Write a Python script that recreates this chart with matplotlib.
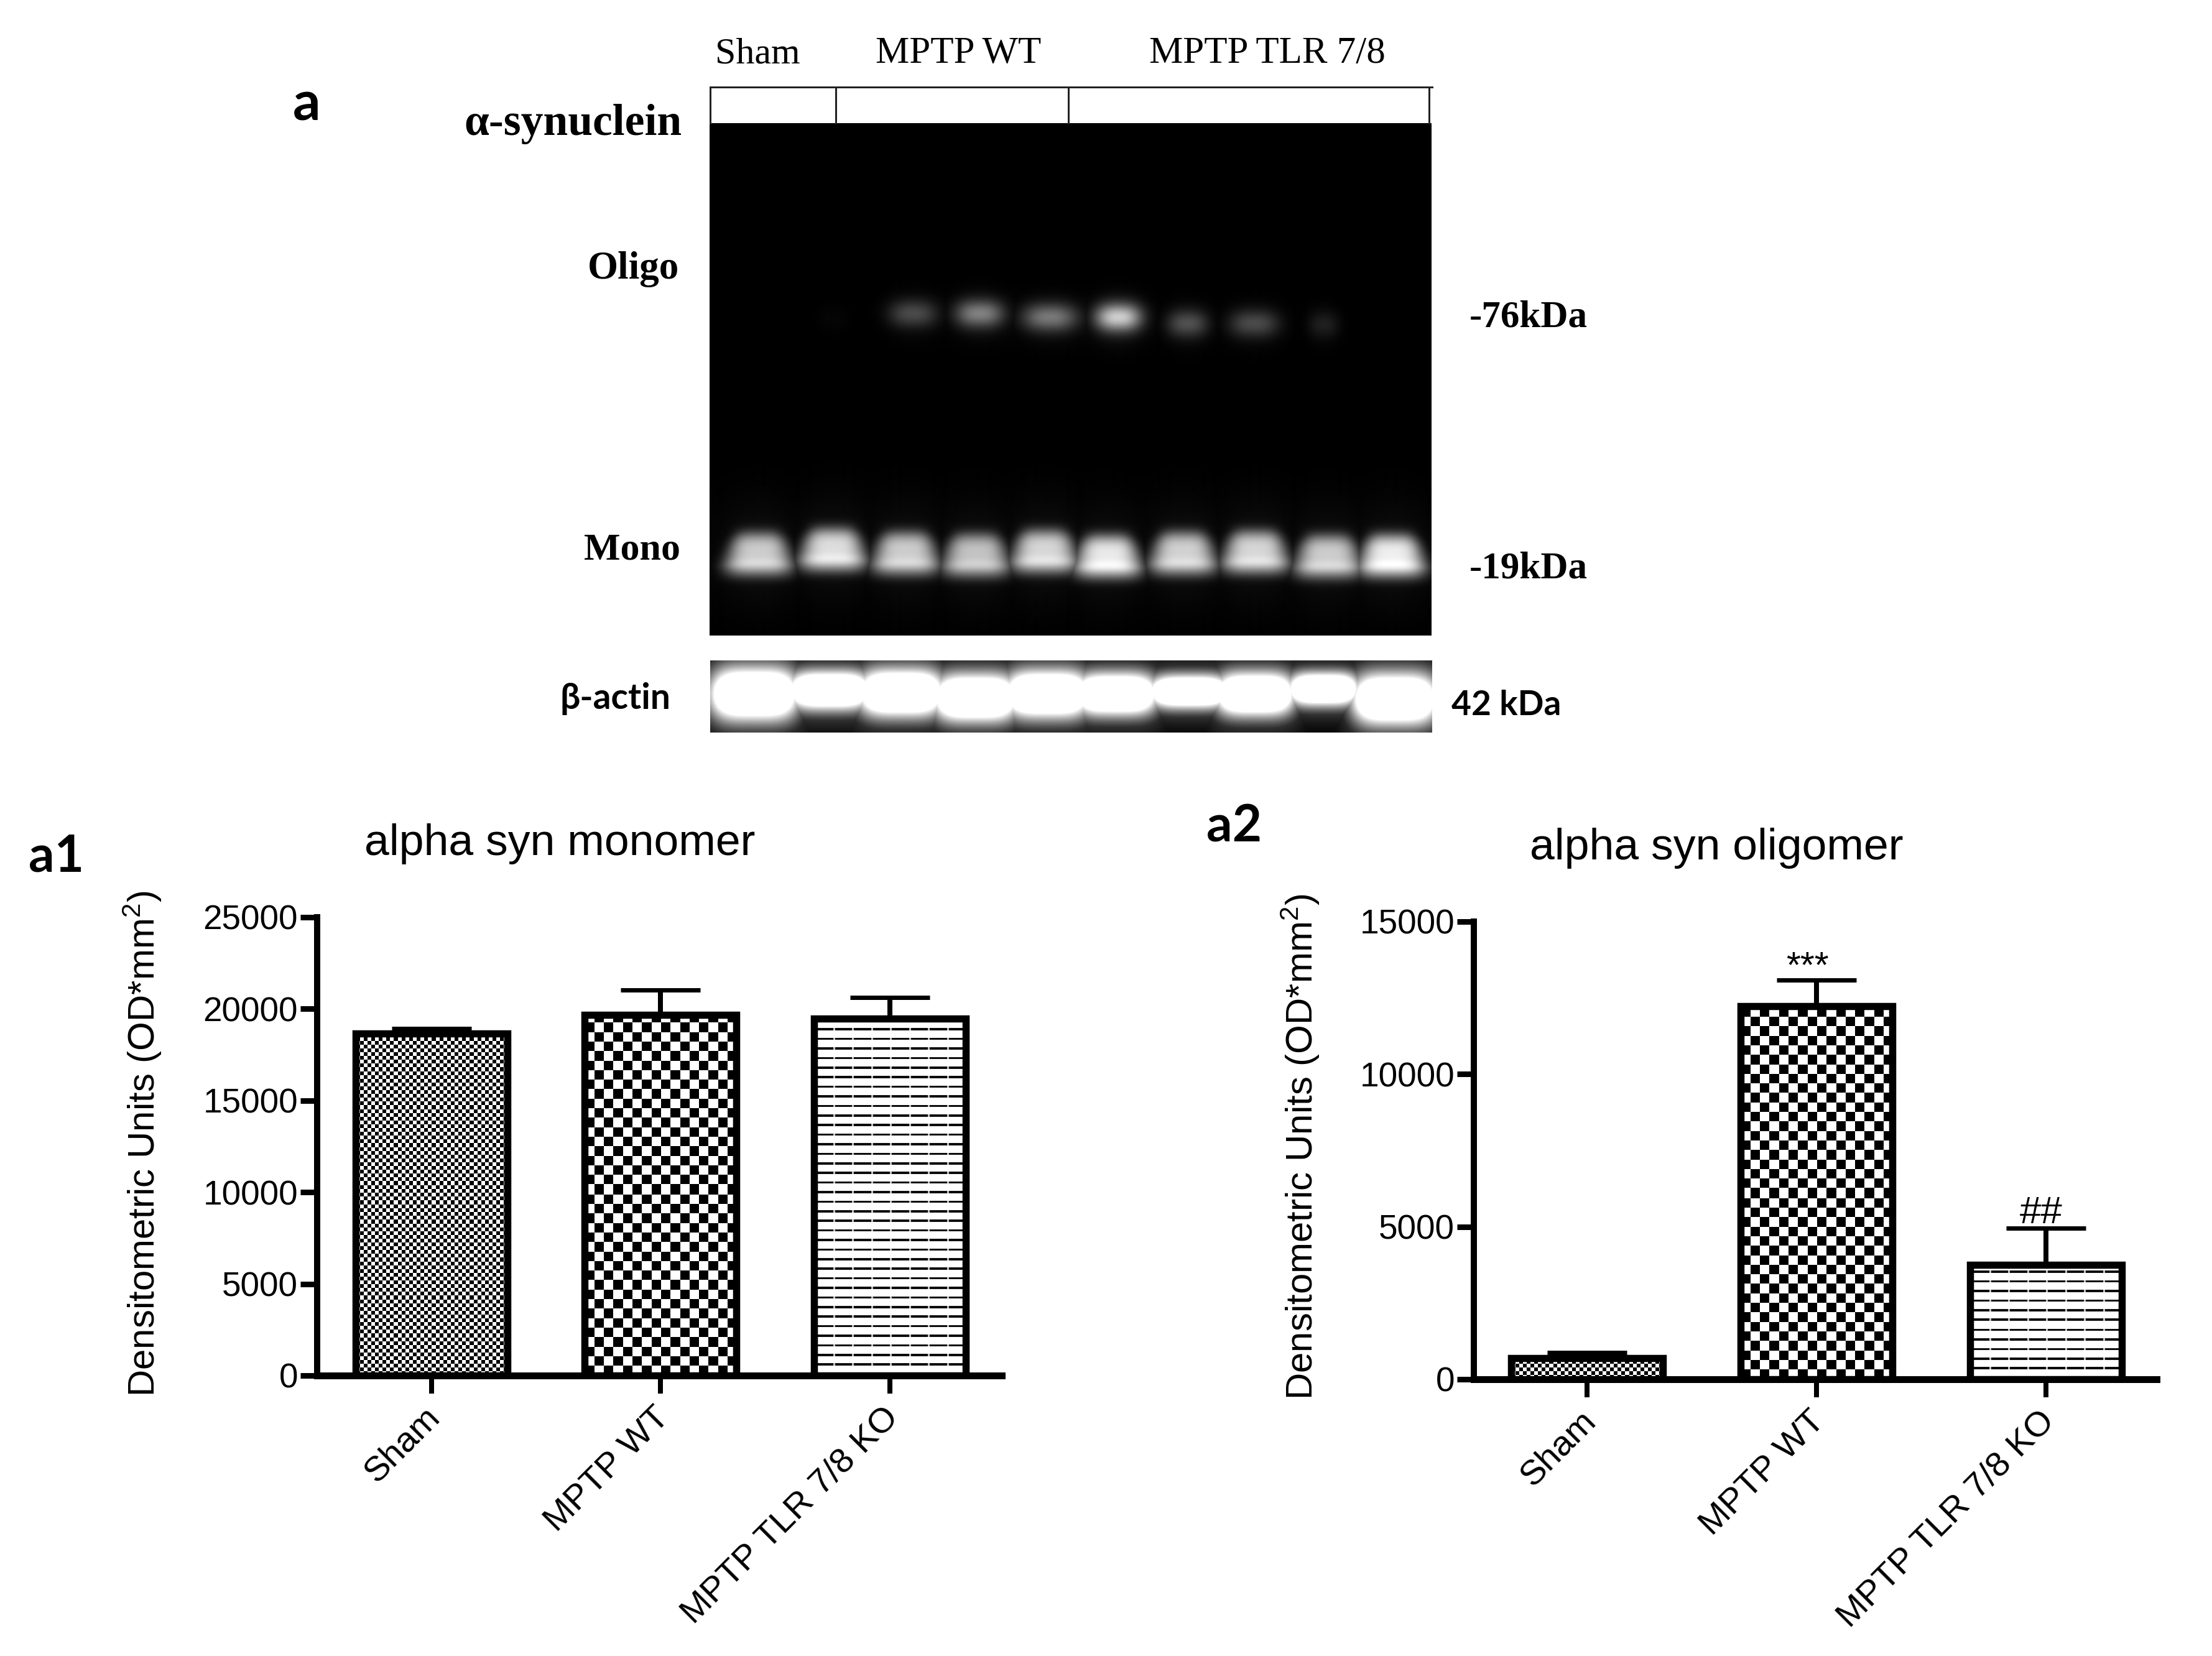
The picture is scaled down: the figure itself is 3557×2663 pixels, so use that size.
import numpy as np
import matplotlib
matplotlib.use("Agg")
import matplotlib.pyplot as plt
from matplotlib.lines import Line2D
from matplotlib.transforms import ScaledTranslation

W, H, DPI = 3557, 2663, 100
plt.rcParams['font.family'] = ['Liberation Sans', 'DejaVu Sans']
plt.rcParams['mathtext.default'] = 'regular'

# ---- data -----
groups = ['Sham', 'MPTP WT', 'MPTP TLR 7/8 KO']
mono_vals = [18670, 19680, 19470]
mono_tops = [18930, 21030, 20620]
oligo_vals = [690, 12230, 3760]
oligo_tops = [877, 13080, 4950]
mono_ticks = [0, 5000, 10000, 15000, 20000, 25000]
oligo_ticks = [0, 5000, 10000, 15000]
patterns = ['fine', 'coarse', 'lines']

# blot band table (lane values)
mono_lane_x = [1220, 1339, 1456, 1569, 1679, 1781, 1902, 2018, 2135, 2237]
mono_lane_peak = [.78, .85, .78, .74, .82, .90, .80, .82, .78, .92]
mono_lane_y = [885, 878, 884, 887, 881, 889, 884, 882, 889, 888]
oligo_lane_x = [1339, 1468, 1575, 1688, 1798, 1909, 2016, 2128]
oligo_lane_peak = [.02, .26, .45, .42, .72, .28, .26, .11]
oligo_lane_y = [512, 504, 504, 510, 510, 520, 520, 522]
oligo_lane_w = [50, 78, 78, 88, 74, 66, 80, 50]
actin_lane_x = [1213, 1334, 1449, 1569, 1684, 1794, 1913, 2018, 2128, 2243]
actin_lane_y = [1116, 1110, 1114, 1122, 1116, 1116, 1112, 1116, 1108, 1124]
actin_lane_h = [80, 58, 72, 72, 72, 64, 50, 66, 50, 78]
actin_lane_w = [124, 118, 122, 120, 122, 118, 116, 112, 100, 120]

def fs(px):
    return px * 72 / DPI

def lw(px):
    return px * 72 / DPI

fig = plt.figure(figsize=(W / DPI, H / DPI), dpi=DPI, facecolor='white')

def add_axes_px(x0, y0, x1, y1):
    return fig.add_axes([x0 / W, 1 - y1 / H, (x1 - x0) / W, (y1 - y0) / H])

def put(x, y, s, **kw):
    return fig.text(x / W, 1 - y / H, s, **kw)

SERIF = ['Liberation Serif', 'DejaVu Serif']
SANSB = ['Lato', 'Open Sans', 'DejaVu Sans']

# ---- gel image -----
def lump(X, Y, x, y, w, h, peak, p=4, q=2):
    return peak * np.exp(-np.abs((X - x) / (w / 2)) ** p - np.abs((Y - y) / (h / 2)) ** q)

gx0, gx1, gy0, gy1 = 1141, 2301, 198, 1022
X, Y = np.meshgrid(np.arange(gx0, gx1) + .5, np.arange(gy0, gy1) + .5)
gel = np.zeros_like(X)
for x, y, pk, w in zip(oligo_lane_x, oligo_lane_y, oligo_lane_peak, oligo_lane_w):
    gel = np.maximum(gel, lump(X, Y, x, y, w, 44, pk, p=2.6))
    gel += lump(X, Y, x, y + 6, w * 1.1, 80, pk * .12, p=2)
glow = np.zeros_like(X)
for x, y, pk in zip(mono_lane_x, mono_lane_y, mono_lane_peak):
    dome_w = 76 + 36 * np.clip((Y - (y - 30)) / 55, 0, 1)
    band = lump(X, Y, x, y + 6, dome_w, 70, pk * .95, p=4, q=3.5)
    band += lump(X, Y, x, y + 22, 100, 18, pk * .12, p=4, q=2)
    gel = np.maximum(gel, band)
    glow = np.maximum(glow, lump(X, Y, x, y + 5, 140, 170, .06, p=2))
gel = np.clip(gel + glow, 0, 1)
ax_gel = add_axes_px(gx0, gy0, gx1, gy1)
ax_gel.imshow(gel, cmap='gray', vmin=0, vmax=1, aspect='auto', interpolation='bilinear')
ax_gel.axis('off')

ax0, ax1, ay0, ay1 = 1142, 2303, 1062, 1178
X, Y = np.meshgrid(np.arange(ax0, ax1) + .5, np.arange(ay0, ay1) + .5)
act = np.zeros_like(X)
for x, y, h, w in zip(actin_lane_x, actin_lane_y, actin_lane_h, actin_lane_w):
    act = np.maximum(act, lump(X, Y, x, y, w * 1.18, h * 1.12, 1.8, p=4))
    act = np.maximum(act, lump(X, Y, x, y, w * 1.4, h * 1.7, .5, p=4))
act = np.clip(act, 0, 1)
ax_act = add_axes_px(ax0, ay0, ax1, ay1)
ax_act.imshow(act, cmap='gray', vmin=0, vmax=1, aspect='auto', interpolation='bilinear')
ax_act.axis('off')

# lane bracket
bracket_x = [1142, 1344, 1718, 2298]
for bx in bracket_x:
    fig.add_artist(Line2D([bx / W] * 2, [1 - 140 / H, 1 - 198 / H], color='#222222', lw=lw(3)))
fig.add_artist(Line2D([1142 / W, 2303 / W], [1 - 140 / H] * 2, color='#222222', lw=lw(3)))

# blot labels
put(1150, 101, 'Sham', family=SERIF, fontsize=fs(60), va='baseline')
put(1408, 101, 'MPTP WT', family=SERIF, fontsize=fs(61), va='baseline')
put(1848, 101, 'MPTP TLR 7/8', family=SERIF, fontsize=fs(61), va='baseline')
put(746, 217, 'α-synuclein', family=SERIF, fontsize=fs(71.5), fontweight='bold', va='baseline')
put(1092, 448, 'Oligo', family=SERIF, fontsize=fs(63), fontweight='bold', va='baseline', ha='right')
put(1094, 900, 'Mono', family=SERIF, fontsize=fs(62), fontweight='bold', va='baseline', ha='right')
put(2363, 526, '-76kDa', family=SERIF, fontsize=fs(61), fontweight='bold', va='baseline')
put(2363, 929, '-19kDa', family=SERIF, fontsize=fs(61), fontweight='bold', va='baseline')
put(900, 1140, 'β-actin', family=SANSB, fontsize=fs(57), fontweight='bold', va='baseline')
put(2334, 1150, '42 kDa', family=SANSB, fontsize=fs(55), fontweight='bold', va='baseline')
put(471, 193, 'a', family=SANSB, fontsize=fs(88), fontweight='bold', va='baseline')
put(46, 1402, 'a1', family=SANSB, fontsize=fs(82), fontweight='bold', va='baseline')
put(1940, 1354, 'a2', family=SANSB, fontsize=fs(82), fontweight='bold', va='baseline')

# ---- bar fills -----
def fill_pattern(ax, bar, kind):
    bb = bar.get_window_extent(fig.canvas.get_renderer())
    nx, ny = int(round(bb.width)), int(round(bb.height))
    yy, xx = np.mgrid[0:ny, 0:nx]
    if kind == 'fine':
        img = (((xx // 6.1).astype(int) + (yy // 6.1).astype(int)) % 2).astype(float)
    elif kind == 'coarse':
        img = (((xx // 15.3).astype(int) + (yy // 15.3).astype(int)) % 2).astype(float)
    else:
        img = np.where((yy % 15.4) < 3.6, 0.05, 1.0)
        img = np.where(((xx % 30.5) < 3) & ((yy % 15.4) < 3.6), 0.75, img)
    x0, w = bar.get_x(), bar.get_width()
    y0, h = bar.get_y(), bar.get_height()
    ax.imshow(img, cmap='gray', vmin=0, vmax=1, extent=[x0, x0 + w, y0 + h, y0],
              aspect='auto', interpolation='nearest', zorder=1.5)

# ---- bar panels -----
def panel(x_left, x_right, y_top, y_zero, vals, tops, ymax, yticks, title, title_xy, ylab_xy, tick0):
    ax = add_axes_px(x_left, y_top, x_right, y_zero)
    pos = np.arange(len(groups))
    spacing = 368.6
    ax.set_xlim((x_left - tick0) / spacing, (x_right - tick0) / spacing)
    ax.set_ylim(0, ymax)
    bars = ax.bar(pos, vals, width=244 / spacing, facecolor='none', edgecolor='black',
                  linewidth=lw(11.5), zorder=3)
    fig.canvas.draw()
    for b, k in zip(bars, patterns):
        fill_pattern(ax, b, k)
    ax.set_xlim((x_left - tick0) / spacing, (x_right - tick0) / spacing)
    ax.set_ylim(0, ymax)
    up = np.array(tops) - np.array(vals)
    ax.errorbar(pos, vals, yerr=[np.zeros_like(up), up], fmt='none', ecolor='black',
                elinewidth=lw(8), capsize=lw(64), capthick=lw(7), zorder=2.5)
    for s in ('top', 'right'):
        ax.spines[s].set_visible(False)
    ax.spines['left'].set_linewidth(lw(10))
    ax.spines['bottom'].set_linewidth(lw(11))
    ax.spines['bottom'].set_zorder(4)
    ax.set_yticks(yticks)
    ax.set_xticks(pos)
    ax.set_xticklabels(groups)
    ax.tick_params(axis='y', length=lw(27), width=lw(9), labelsize=fs(55), pad=lw(4))
    ax.tick_params(axis='x', length=lw(29), width=lw(8), labelsize=fs(56.5), pad=lw(31))
    shift = ScaledTranslation(6 / DPI, 0, fig.dpi_scale_trans)
    for lab in ax.get_xticklabels():
        lab.set_transform(lab.get_transform() + shift)
    plt.setp(ax.get_xticklabels(), rotation=45, ha='right', va='center', rotation_mode='anchor')
    ax.patch.set_alpha(0)
    put(title_xy[0], title_xy[1], title, fontsize=fs(71.5), ha='center', va='center')
    put(ylab_xy[0], ylab_xy[1], 'Densitometric Units (OD*mm$^{2}$)', fontsize=fs(60),
        rotation=90, ha='center', va='center')
    return ax

a1 = panel(510, 1611, 1475, 2212, mono_vals, mono_tops, 25000, mono_ticks,
           'alpha syn monomer', (900, 1357), (229, 1839), 693.6)
a2 = panel(2370, 3468, 1482, 2218, oligo_vals, oligo_tops, 15000, oligo_ticks,
           'alpha syn oligomer', (2760, 1364), (2091, 1844), 2552.4)

a2.text(0.96, 13500, '***', fontsize=fs(59), ha='center', va='center')
a2.text(1.98, 5430, '##', fontsize=fs(62), ha='center', va='center')

fig.savefig('out.png', dpi=DPI, facecolor='white')
